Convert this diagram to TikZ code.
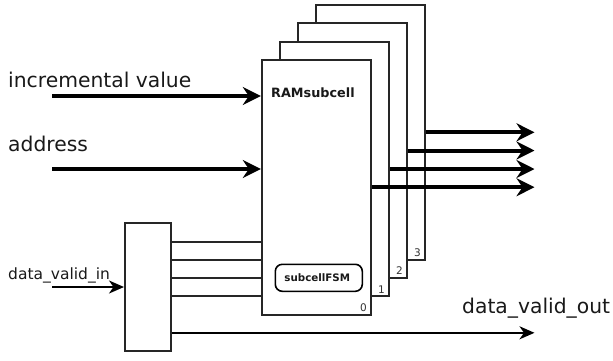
\documentclass[tikz,border=0pt]{standalone}
\usepackage{fontspec}
\setmainfont{DejaVu Sans}
\usetikzlibrary{arrows.meta}
\tikzset{
  cell/.style={draw=black!85,fill=white,line width=2pt,minimum width=109pt,inner sep=0pt,anchor=north west},
  thickarrow/.style={line width=4pt,-{Stealth[length=18pt,width=18pt,inset=6pt]}},
  thinarrow/.style={line width=2pt,-{Stealth[length=15pt,width=13pt,inset=4.5pt]}},
  plainline/.style={draw=black!85,line width=2pt},
  biglabel/.style={font=\fontsize{20.3}{22}\selectfont,anchor=base west,inner sep=0pt,text=black!90},
  midlabel/.style={font=\fontsize{15.5}{16}\selectfont,anchor=base west,inner sep=0pt,text=black!90},
  idxlabel/.style={font=\fontsize{10.5}{11}\selectfont,anchor=base,inner sep=0pt,text=black!80},
}
\begin{document}
\begin{tikzpicture}[x=1pt,y=-1pt]
\useasboundingbox (0,0) rectangle (613,360);
\node[cell,minimum height=255pt] (c3) at (314.8,3.8) {};
\node[cell,minimum height=254.5pt] (c2) at (296.8,22.2) {};
\node[cell,minimum height=254.5pt] (c1) at (278.8,40.6) {};
\node[cell,minimum height=255pt] (c0) at (260.8,58.8) {};
\node[draw=black!85,fill=white,line width=2pt,minimum width=46pt,minimum height=127.5pt,inner sep=0pt,anchor=north west] (mux) at (124,222.3) {};
\node[draw=black,line width=1.6pt,rounded corners=7pt,minimum width=87pt,minimum height=27pt,inner sep=0pt,anchor=north west] (fsm) at (274.5,263.5) {};
\node[font=\fontsize{10.3}{11}\selectfont\bfseries,inner sep=0pt,text=black!90] (fsmt) at ([xshift=-1.5pt,yshift=0.5pt]fsm.center) {subcellFSM};
\node[font=\fontsize{12.8}{14}\selectfont\bfseries,anchor=base west,inner sep=0pt,text=black!90] (ram) at (271,97) {RAMsubcell};
\node[idxlabel] (n0) at (363.5,311) {0};
\node[idxlabel] (n1) at (381.5,293) {1};
\node[idxlabel] (n2) at (399.5,274.5) {2};
\node[idxlabel] (n3) at (417.5,256) {3};
\node[biglabel] (linc) at (8,87) {incremental value};
\node[biglabel] (ladr) at (8,151) {address};
\node[midlabel] (ldin) at (8,279) {data\_valid\_in};
\node[biglabel] (ldout) at (462,313) {data\_valid\_out};
\coordinate (s1) at (52,96);
\coordinate (s2) at (52,169);
\coordinate (s3) at (52,287);
\coordinate (t0) at (534.5,187.2);
\coordinate (t1) at (534.5,169);
\coordinate (t2) at (534.5,150.5);
\coordinate (t3) at (534.5,132.3);
\coordinate (t4) at (534.5,332.8);
\draw[thickarrow] (s1) -- (c0.west |- s1);
\draw[thickarrow] (s2) -- (c0.west |- s2);
\draw[thinarrow] (s3) -- (mux.west |- s3);
\draw[thickarrow] (c0.east |- t0) -- (t0);
\draw[thickarrow] (c1.east |- t1) -- (t1);
\draw[thickarrow] (c2.east |- t2) -- (t2);
\draw[thickarrow] (c3.east |- t3) -- (t3);
\draw[thinarrow] (mux.east |- t4) -- (t4);
\foreach \y in {241.7,260,278.3,296.2}
  \draw[plainline] (mux.east |- 0,\y) -- (c0.west |- 0,\y);
\end{tikzpicture}
\end{document}
